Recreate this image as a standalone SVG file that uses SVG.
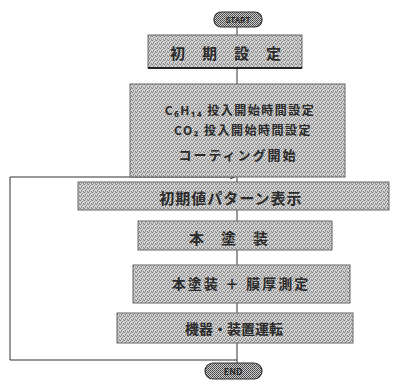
<svg xmlns="http://www.w3.org/2000/svg" width="398" height="380" viewBox="0 0 398 380">
<defs>
<pattern id="ht" width="4" height="4" patternUnits="userSpaceOnUse">
<rect width="4" height="4" fill="#d2d2d2"/>
<rect x="0" y="0" width="1" height="1" fill="#7a7a7a"/>
<rect x="2" y="1" width="1" height="1" fill="#8a8a8a"/>
<rect x="1" y="2" width="1" height="1" fill="#7f7f7f"/>
<rect x="3" y="3" width="1" height="1" fill="#8a8a8a"/>
<rect x="3" y="0" width="1" height="1" fill="#a0a0a0"/>
<rect x="1" y="3" width="1" height="1" fill="#a0a0a0"/>
</pattern>
<pattern id="htd" width="2" height="2" patternUnits="userSpaceOnUse">
<rect width="2" height="2" fill="#cfcfcf"/>
<rect x="0" y="0" width="1" height="1" fill="#444"/>
<rect x="1" y="1" width="1" height="1" fill="#555"/>
</pattern>
<marker id="arr" markerWidth="6" markerHeight="6" refX="5" refY="3" orient="auto" markerUnits="userSpaceOnUse">
<path d="M0,1 L5,3 L0,5" fill="none" stroke="#333" stroke-width="1"/>
</marker>
</defs>
<style>
.box{fill:url(#ht);stroke:#666;stroke-width:1}
.pill{fill:url(#htd);stroke:#333;stroke-width:1.2}
.t{font-family:"Noto Sans CJK JP","Noto Sans",sans-serif;font-weight:bold;fill:#2a2a2a;text-anchor:middle;dominant-baseline:central}
.c{fill:none;stroke:#333;stroke-width:1}
</style>
<rect width="398" height="380" fill="#ffffff"/>
<g id="connectors">
<line class="c" x1="237" y1="27" x2="237" y2="35"/>
<line class="c" x1="237" y1="68" x2="237" y2="84"/>
<line class="c" x1="237" y1="177" x2="237" y2="182"/>
<line class="c" x1="237" y1="210" x2="237" y2="221"/>
<line class="c" x1="237" y1="250" x2="237" y2="265"/>
<line class="c" x1="237" y1="303" x2="237" y2="313"/>
<line class="c" x1="237" y1="343" x2="237" y2="363"/>
<polyline class="c" points="237,360 10,360 10,177 235,177" marker-end="url(#arr)"/>
</g>
<g id="start">
<rect class="pill" x="214" y="12" width="48" height="15" rx="7"/>
<text class="t" x="238" y="19.5" font-size="8" fill="#111">START</text>
</g>
<g id="n1">
<rect class="box" x="148" y="35" width="154" height="33"/>
<line x1="148" y1="68" x2="302" y2="68" stroke="#222" stroke-width="2"/>
<text class="t" x="234" y="52" font-size="15" letter-spacing="17">初期設定</text>
</g>
<g id="n2">
<rect class="box" x="130" y="84" width="215" height="93"/>
<text class="t" x="240" y="109" font-size="12" letter-spacing="1.5">C₆H₁₄ 投入開始時間設定</text>
<text class="t" x="243" y="129" font-size="12" letter-spacing="1.5">CO₂ 投入開始時間設定</text>
<text class="t" x="238" y="154" font-size="13" letter-spacing="2">コーティング開始</text>
</g>
<g id="n3">
<rect class="box" x="78" y="182" width="311" height="28"/>
<text class="t" x="231" y="197" font-size="15" letter-spacing="1">初期値パターン表示</text>
</g>
<g id="n4">
<rect class="box" x="138" y="221" width="194" height="29"/>
<text class="t" x="237" y="237" font-size="15" letter-spacing="17">本塗装</text>
</g>
<g id="n5">
<rect class="box" x="133" y="265" width="217" height="38"/>
<text class="t" x="241" y="283" font-size="14" letter-spacing="2">本塗装 ＋ 膜厚測定</text>
</g>
<g id="n6">
<rect class="box" x="117" y="313" width="236" height="30"/>
<text class="t" x="234" y="328" font-size="14">機器・装置運転</text>
</g>
<g id="end">
<rect class="pill" x="205" y="363" width="57" height="16" rx="8"/>
<text class="t" x="233" y="371.5" font-size="9" fill="#111">END</text>
</g>
</svg>
